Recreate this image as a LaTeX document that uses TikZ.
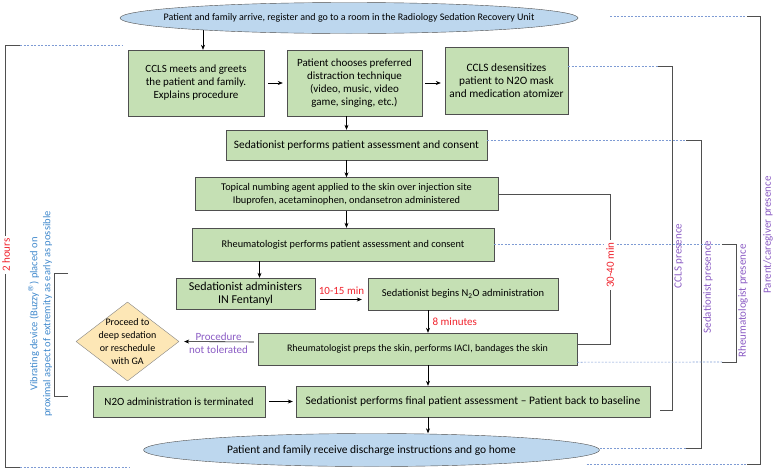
\documentclass[tikz,border=0pt]{standalone}
\usepackage{fontspec}
\setmainfont{Carlito}
\newfontfamily\symbolfont{DejaVu Sans}
\usetikzlibrary{shapes.geometric,arrows.meta,backgrounds}

\definecolor{boxgreen}{HTML}{C5E0B4}
\definecolor{ovalblue}{HTML}{BDD7EE}
\definecolor{diamondtan}{HTML}{FDE7B6}
\definecolor{framegray}{HTML}{4F4F4F}
\definecolor{timered}{HTML}{F0222C}
\definecolor{staffpurple}{HTML}{8B5CC4}
\definecolor{buzzyblue}{HTML}{3F88CC}
\definecolor{leaderblue}{HTML}{7E9BD4}

\begin{document}
\begin{tikzpicture}[x=1pt,y=-1pt,
    textsize/.style={font=\fontsize{#1}{13}\selectfont},
    textsize=11,
    >={Stealth[length=5pt,width=4pt]},
    stepbox/.style={draw=framegray,fill=boxgreen,align=center,inner sep=0pt},
    oval/.style={ellipse,draw=framegray,fill=ovalblue,inner sep=0pt},
    decision/.style={diamond,draw=framegray!70,fill=diamondtan,inner sep=0pt},
    flow/.style={->,black,line width=0.6pt},
    timer/.style={text=timered},
    staff/.style={text=staffpurple},
    brace/.style={draw=framegray,line width=0.8pt},
    leader/.style={draw=leaderblue,dash pattern=on 2pt off 1.5pt,line width=0.6pt}]

    \useasboundingbox (0,0) rectangle (778,469);

    % Draw arrival and discharge
    \node[oval,minimum width=458pt,minimum height=31pt] (arrive) at (349,18) {};
    \node[textsize=10] (arrivetext) at (arrive) {Patient and family arrive, register and go to a room  in the Radiology Sedation Recovery Unit};
    \node[oval,minimum width=456pt,minimum height=33pt] (discharge) at (371.5,450) {};
    \node[textsize=11.5] (dischargetext) at (discharge) {Patient and family receive discharge instructions and go home};

    % Draw steps
    \node[stepbox,minimum width=136pt,minimum height=66pt] (greet) at (196,83)
        {CCLS meets and greets\\the patient and family.\\Explains procedure};
    \node[stepbox,minimum width=135pt,minimum height=66pt] (choose) at (354.5,83)
        {Patient chooses preferred\\distraction technique\\(video, music, video\\game, singing, etc.)};
    \node[stepbox,textsize=11.3,minimum width=123pt,minimum height=67pt] (desens) at (506.5,80.5)
        {CCLS desensitizes\\patient to N2O mask\\and medication atomizer};
    \node[stepbox,textsize=11.3,minimum width=261pt,minimum height=30pt] (sedassess) at (356.5,145)
        {Sedationist performs  patient assessment and consent};
    \node[stepbox,textsize=10.3,minimum width=303pt,minimum height=33pt] (topical) at (346.5,194)
        {Topical numbing  agent applied to the skin over injection site\\Ibuprofen, acetaminophen, ondansetron  administered};
    \node[stepbox,textsize=10.3,minimum width=302pt,minimum height=33pt] (rheumassess) at (343,244.5)
        {Rheumatologist performs patient assessment and consent};
    \node[stepbox,textsize=12,minimum width=139pt,minimum height=31pt] (fentanyl) at (245.5,293.5)
        {Sedationist administers\\IN Fentanyl};
    \node[stepbox,textsize=10.5,minimum width=190pt,minimum height=32pt] (beginn2o) at (463,294)
        {Sedationist begins N\textsubscript{2}O administration};
    \node[stepbox,textsize=10,minimum width=319pt,minimum height=32pt] (preps) at (417.5,349)
        {Rheumatologist preps the skin, performs  IACI, bandages the skin};
    \node[stepbox,minimum width=172pt,minimum height=31pt] (terminated) at (179,401.5)
        {N2O administration is terminated};
    \node[stepbox,textsize=11.5,minimum width=354pt,minimum height=31pt] (final) at (473,401.5)
        {Sedationist performs  final patient assessment -- Patient back to baseline};

    % Draw decision
    \node[decision,minimum width=103pt,minimum height=79pt] (defer) at (127.5,341.5) {};
    \node[align=center,textsize=10] (defertext) at (defer) {Proceed to\\deep sedation\\or reschedule\\with GA};

    % Draw flow arrows
    \coordinate (spine) at (428,0);
    \begin{scope}[on background layer]
        \draw[flow] ([xshift=7pt]greet.north |- arrive.center) -- ([xshift=7pt]greet.north);
    \end{scope}
    \draw[flow,shorten <=4pt,shorten >=4pt] (greet) -- (choose);
    \draw[flow,shorten <=3pt,shorten >=4pt] (choose.east) -- (choose.east -| desens.west);
    \draw[flow] (choose.south -| topical.north) -- (sedassess.north -| topical.north);
    \draw[flow] (sedassess.south -| topical.north) -- (topical.north);
    \draw[flow] (topical.south) -- (rheumassess.north -| topical.south);
    \draw[flow] ([xshift=14pt]fentanyl.north |- rheumassess.south) -- ([xshift=14pt]fentanyl.north);
    \draw[flow,shorten <=5pt,shorten >=6pt] ([yshift=-6pt]fentanyl.east) -- ([yshift=-6pt]fentanyl.east -| beginn2o.west)
        node[midway,above=1pt,timer] (gap1) {10-15 min};
    \draw[flow] (beginn2o.south -| spine) -- (preps.north -| spine)
        node[midway,right=1pt,timer] (gap2) {8 minutes};
    \draw[flow] (preps.south -| spine) -- (final.north -| spine);
    \draw[flow] (final.south -| spine) -- (discharge.north -| spine);
    \draw[flow,shorten <=4pt,shorten >=5pt] ([yshift=7pt]preps.west) -- (defer.east)
        node[midway,staff,align=center,yshift=-1pt] (bail) {Procedure\\not tolerated};
    \draw[flow,shorten <=4pt,shorten >=3pt] (terminated) -- (final);

    % Draw 30-40 min bracket
    \coordinate (wait top) at (610,194);
    \coordinate (wait bot) at (610,344);
    \draw[brace] (topical.east) -- (wait top) -- (wait bot) -- ([yshift=5pt]preps.east);

    % Draw presence brackets
    \coordinate (ccls top) at (672,66.5);
    \coordinate (ccls bot) at (672,410);
    \draw[leader] ([yshift=14pt]desens.east) -- ([xshift=-14pt]ccls top);
    \draw[brace] ([xshift=-14pt]ccls top) -- (ccls top) -- (ccls bot) -- ([xshift=-12pt]ccls bot);

    \coordinate (sed top) at (701,140);
    \coordinate (sed bot) at (701,448);
    \draw[leader] ([yshift=5pt]sedassess.east) -- ([xshift=-15pt]sed top);
    \draw[leader] ([yshift=2pt]discharge.east) -- ([xshift=-15pt]sed bot);
    \draw[brace] ([xshift=-15pt]sed top) -- (sed top) -- (sed bot) -- ([xshift=-15pt]sed bot);

    \coordinate (rheum top) at (736,244.5);
    \coordinate (rheum bot) at (736,362);
    \draw[leader] (rheumassess.east) -- ([xshift=-14pt]rheum top);
    \draw[leader] ([yshift=3pt]preps.south east) -- ([xshift=-14pt]rheum bot);
    \draw[brace] ([xshift=-14pt]rheum top) -- (rheum top) -- (rheum bot) -- ([xshift=-14pt]rheum bot);

    \coordinate (parent top) at (760,16);
    \coordinate (parent bot) at (760,464);
    \draw[leader] ([xshift=32pt,yshift=2pt]arrive.east) -- ([xshift=-13pt]parent top);
    \draw[leader] ([xshift=-13pt]discharge.east |- parent bot) -- ([xshift=-13pt]parent bot);
    \draw[brace] ([xshift=-13pt]parent top) -- (parent top) -- (parent bot) -- ([xshift=-13pt]parent bot);

    % Draw brackets on the left
    \coordinate (day top) at (5,45);
    \coordinate (day bot) at (5,467);
    \draw[brace] ([xshift=15pt]day top) -- (day top) -- (day bot) -- ([xshift=15pt]day bot);
    \draw[leader] ([xshift=15pt]day top) -- ([xshift=118pt]day top);
    \draw[leader] ([xshift=15pt]day bot) -- ([xshift=125pt]day bot);

    \coordinate (buzz top) at (54,273);
    \coordinate (buzz bot) at (54,396);
    \draw[brace] ([xshift=14pt]buzz top) -- (buzz top) -- (buzz bot) -- ([xshift=14pt]buzz bot);

    % Draw bracket labels
    \node[timer,rotate=90,fill=white,inner sep=2pt] (twohours) at (6,255) {2 hours};
    \node[text=buzzyblue,rotate=90,align=center,textsize=10.5] (buzzy) at (40,314)
        {Vibrating device (Buzzy\textsuperscript{\symbolfont ®}) placed on\\proximal aspect of extremity  as early as possible};
    \node[timer,rotate=90,fill=white,inner sep=2pt] (waitlabel) at (610,265) {30-40 min};
    \node[staff,rotate=90] (cclslabel) at (679,256) {CCLS presence};
    \node[staff,rotate=90] (sedlabel) at (708,287) {Sedationist presence};
    \node[staff,rotate=90] (rheumlabel) at (743,301) {Rheumatologist  presence};
    \node[staff,rotate=90] (parentlabel) at (768,235) {Parent/caregiver presence};
\end{tikzpicture}
\end{document}
